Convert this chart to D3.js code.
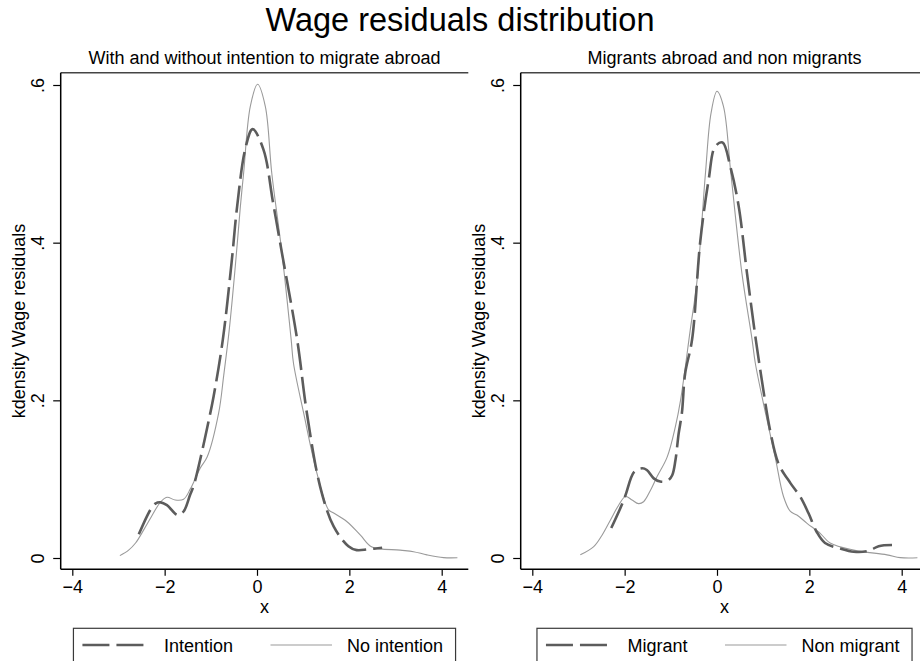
<!DOCTYPE html>
<html><head><meta charset="utf-8">
<script src="https://cdn.jsdelivr.net/npm/d3@7"></script>
<style>
body{margin:0;background:#fff}
svg text{font-family:"Liberation Sans",Arial,Helvetica,sans-serif;fill:#000}
</style>
</head><body>
<svg id="c" width="920" height="661"></svg>
<script>
// ---------- data ----------
const mainTitle = "Wage residuals distribution";
const panelTitles = ["With and without intention to migrate abroad", "Migrants abroad and non migrants"];
const yAxisTitle = "kdensity Wage residuals";
const xAxisTitle = "x";
const xTicks = [-4, -2, 0, 2, 4];
const xTickLabels = ["\u22124", "\u22122", "0", "2", "4"];
const yTicks = [0, 0.2, 0.4, 0.6];
const yTickLabels = ["0", ".2", ".4", ".6"];
const legendLabels = [["Intention", "No intention"], ["Migrant", "Non migrant"]];

// Left panel: intention (dashed)
const intentionX = [-2.56, -2.31, -2.20, -2.09, -1.95, -1.72, -1.59, -1.45, -1.37, -1.23, -1.08, -0.94, -0.74, -0.55, -0.43, -0.25, -0.095, 0.14, 0.35, 0.54, 0.87, 1.08, 1.37, 1.66, 1.98, 2.16, 2.40, 2.71];
const intentionY = [0.030, 0.061, 0.069, 0.0706, 0.067, 0.0545, 0.059, 0.080, 0.092, 0.125, 0.165, 0.205, 0.277, 0.375, 0.446, 0.520, 0.544, 0.518, 0.450, 0.387, 0.277, 0.184, 0.090, 0.040, 0.015, 0.010, 0.011, 0.013];
// Left panel: no intention (solid)
const noIntentionX = [-2.97, -2.78, -2.63, -2.45, -2.31, -2.09, -1.95, -1.77, -1.59, -1.44, -1.23, -1.08, -0.83, -0.72, -0.60, -0.47, -0.36, -0.29, -0.145, 0.013, 0.18, 0.32, 0.54, 0.74, 0.79, 1.01, 1.30, 1.55, 1.66, 1.95, 2.24, 2.49, 3.10, 3.39, 3.68, 4.04, 4.34];
const noIntentionY = [0.003, 0.010, 0.019, 0.036, 0.050, 0.071, 0.077, 0.0735, 0.0745, 0.088, 0.114, 0.128, 0.184, 0.232, 0.290, 0.370, 0.446, 0.488, 0.573, 0.601, 0.573, 0.488, 0.387, 0.277, 0.247, 0.184, 0.107, 0.061, 0.057, 0.046, 0.029, 0.014, 0.010, 0.008, 0.004, 0.0005, 0.0003];
// Right panel: migrant (dashed)
const migrantX = [-2.29, -2.05, -1.98, -1.79, -1.62, -1.52, -1.37, -1.23, -1.07, -0.97, -0.90, -0.83, -0.76, -0.69, -0.54, -0.36, -0.18, -0.04, 0.12, 0.29, 0.47, 0.65, 0.84, 0.97, 1.15, 1.33, 1.59, 1.80, 1.98, 2.16, 2.34, 2.67, 2.96, 3.28, 3.50, 3.79];
const migrantY = [0.038, 0.069, 0.080, 0.1095, 0.1138, 0.1116, 0.101, 0.097, 0.098, 0.105, 0.124, 0.158, 0.184, 0.234, 0.277, 0.403, 0.480, 0.522, 0.527, 0.496, 0.446, 0.361, 0.277, 0.226, 0.162, 0.120, 0.095, 0.078, 0.057, 0.033, 0.019, 0.012, 0.008, 0.009, 0.015, 0.0165];
// Right panel: non migrant (solid)
const nonMigrantX = [-2.96, -2.67, -2.50, -2.31, -2.13, -1.98, -1.84, -1.70, -1.59, -1.44, -1.30, -1.08, -0.90, -0.79, -0.58, -0.43, -0.25, -0.13, 0.0, 0.14, 0.30, 0.54, 0.76, 0.83, 1.05, 1.26, 1.44, 1.59, 1.73, 1.95, 2.24, 2.45, 2.96, 3.68, 3.97, 4.34];
const nonMigrantY = [0.004, 0.0145, 0.028, 0.048, 0.067, 0.078, 0.0736, 0.069, 0.0714, 0.086, 0.103, 0.128, 0.167, 0.200, 0.289, 0.353, 0.488, 0.564, 0.592, 0.573, 0.488, 0.361, 0.277, 0.247, 0.184, 0.128, 0.078, 0.059, 0.0545, 0.044, 0.031, 0.019, 0.010, 0.004, 0.0005, 0.0003];

const seriesByPanel = [
  [{x: intentionX, y: intentionY, dashed: true}, {x: noIntentionX, y: noIntentionY, dashed: false}],
  [{x: migrantX, y: migrantY, dashed: true}, {x: nonMigrantX, y: nonMigrantY, dashed: false}]
];

// ---------- styles / layout ----------
const DASH_COLOR = "#5c5c5c", DASH_W = 2.6, DASH_PATTERN = "27,7";
const SOLID_COLOR = "#9a9a9a", SOLID_W = 1.1;
const FONT = 18;
const panelOffset = 460;
const frameLeft = 60.7, frameRight = 468.3, frameTop = 72.7, frameBottom = 569.3;

const svg = d3.select("#c");
svg.append("rect").attr("width", 920).attr("height", 661).attr("fill", "#fff");

svg.append("text").attr("x", 460).attr("y", 31).attr("text-anchor", "middle")
  .style("font-size", "32.5px").text(mainTitle);

seriesByPanel.forEach((series, p) => {
  const g = svg.append("g").attr("transform", `translate(${p * panelOffset},0)`);
  const x = d3.scaleLinear().domain([-4, 4]).range([72.3, 441.7]);
  const y = d3.scaleLinear().domain([0, 0.6]).range([558, 85]);
  const cx = (frameLeft + frameRight) / 2;

  // subtitle
  g.append("text").attr("x", cx).attr("y", 64).attr("text-anchor", "middle")
    .style("font-size", FONT + "px").text(panelTitles[p]);

  // top frame line
  g.append("line").attr("x1", frameLeft).attr("x2", frameRight).attr("y1", frameTop).attr("y2", frameTop)
    .attr("stroke", "#444").attr("stroke-width", 1.4);

  // axes
  const xAxis = d3.axisBottom(x).tickValues(xTicks).tickSize(6.5).tickSizeOuter(0)
    .tickFormat((d, i) => xTickLabels[i]);
  const gx = g.append("g").attr("transform", `translate(0,${frameBottom})`).call(xAxis);
  gx.select(".domain").remove();
  gx.selectAll(".tick line").attr("stroke", "#000").attr("stroke-width", 1.2);
  gx.selectAll(".tick text").attr("y", 23.7).attr("dy", null)
    .style("font-size", FONT + "px").style("font-family", '"Liberation Sans",Arial,sans-serif').attr("fill", "#000");

  const yAxis = d3.axisLeft(y).tickValues(yTicks).tickSize(7.5).tickSizeOuter(0)
    .tickFormat((d, i) => yTickLabels[i]);
  const gy = g.append("g").attr("transform", `translate(${frameLeft},0)`).call(yAxis);
  gy.select(".domain").remove();
  gy.selectAll(".tick line").attr("stroke", "#000").attr("stroke-width", 1.2);
  gy.selectAll(".tick text")
    .attr("x", null).attr("dy", null)
    .attr("text-anchor", "middle")
    .attr("transform", "translate(-16.5,0) rotate(-90)")
    .attr("y", 0)
    .style("font-size", FONT + "px").style("font-family", '"Liberation Sans",Arial,sans-serif').attr("fill", "#000");

  g.append("line").attr("x1", frameLeft).attr("x2", frameRight).attr("y1", frameBottom).attr("y2", frameBottom)
    .attr("stroke", "#000").attr("stroke-width", 1.5);
  g.append("line").attr("x1", frameLeft).attr("x2", frameLeft).attr("y1", frameTop).attr("y2", frameBottom)
    .attr("stroke", "#000").attr("stroke-width", 1.5);

  // axis titles
  g.append("text").attr("x", cx).attr("y", 613.3).attr("text-anchor", "middle")
    .style("font-size", FONT + "px").text(xAxisTitle);
  g.append("text").attr("transform", `translate(25,${(frameTop + frameBottom) / 2}) rotate(-90)`)
    .attr("text-anchor", "middle").style("font-size", FONT + "px").text(yAxisTitle);

  // curves
  const line = d3.line().x(d => x(d[0])).y(d => y(d[1])).curve(d3.curveCatmullRom.alpha(0.5));
  [1, 0].forEach(k => {
    const s = series[k];
    const pts = s.x.map((v, i) => [v, s.y[i]]);
    g.append("path").attr("d", line(pts)).attr("fill", "none")
      .attr("stroke", s.dashed ? DASH_COLOR : SOLID_COLOR)
      .attr("stroke-width", s.dashed ? DASH_W : SOLID_W)
      .attr("stroke-dasharray", s.dashed ? DASH_PATTERN : null);
  });

  // legend
  const lg = g.append("g");
  const sampleLen = 61.5, textGap = 20, colGap = 37.5, padL = 9, padR = 12.5;
  const t1 = lg.append("text").style("font-size", FONT + "px").text(legendLabels[p][0]);
  const t2 = lg.append("text").style("font-size", FONT + "px").text(legendLabels[p][1]);
  const w1 = t1.node().getComputedTextLength(), w2 = t2.node().getComputedTextLength();
  const boxW = padL + sampleLen + textGap + w1 + colGap + sampleLen + textGap - 5 + w2 + padR;
  const bx = cx - boxW / 2, by = 628.3, ly = 645;
  lg.insert("rect", "text").attr("x", bx).attr("y", by).attr("width", boxW).attr("height", 45)
    .attr("fill", "#fff").attr("stroke", "#3a3a3a").attr("stroke-width", 1.2);
  let xx = bx + padL;
  lg.append("line").attr("x1", xx).attr("x2", xx + sampleLen).attr("y1", ly).attr("y2", ly)
    .attr("stroke", DASH_COLOR).attr("stroke-width", DASH_W).attr("stroke-dasharray", DASH_PATTERN);
  xx += sampleLen + textGap;
  t1.attr("x", xx).attr("y", ly + 6.5);
  xx += w1 + colGap;
  lg.append("line").attr("x1", xx).attr("x2", xx + sampleLen).attr("y1", ly).attr("y2", ly)
    .attr("stroke", SOLID_COLOR).attr("stroke-width", SOLID_W);
  xx += sampleLen + textGap - 5;
  t2.attr("x", xx).attr("y", ly + 6.5);
});
</script>
</body></html>
